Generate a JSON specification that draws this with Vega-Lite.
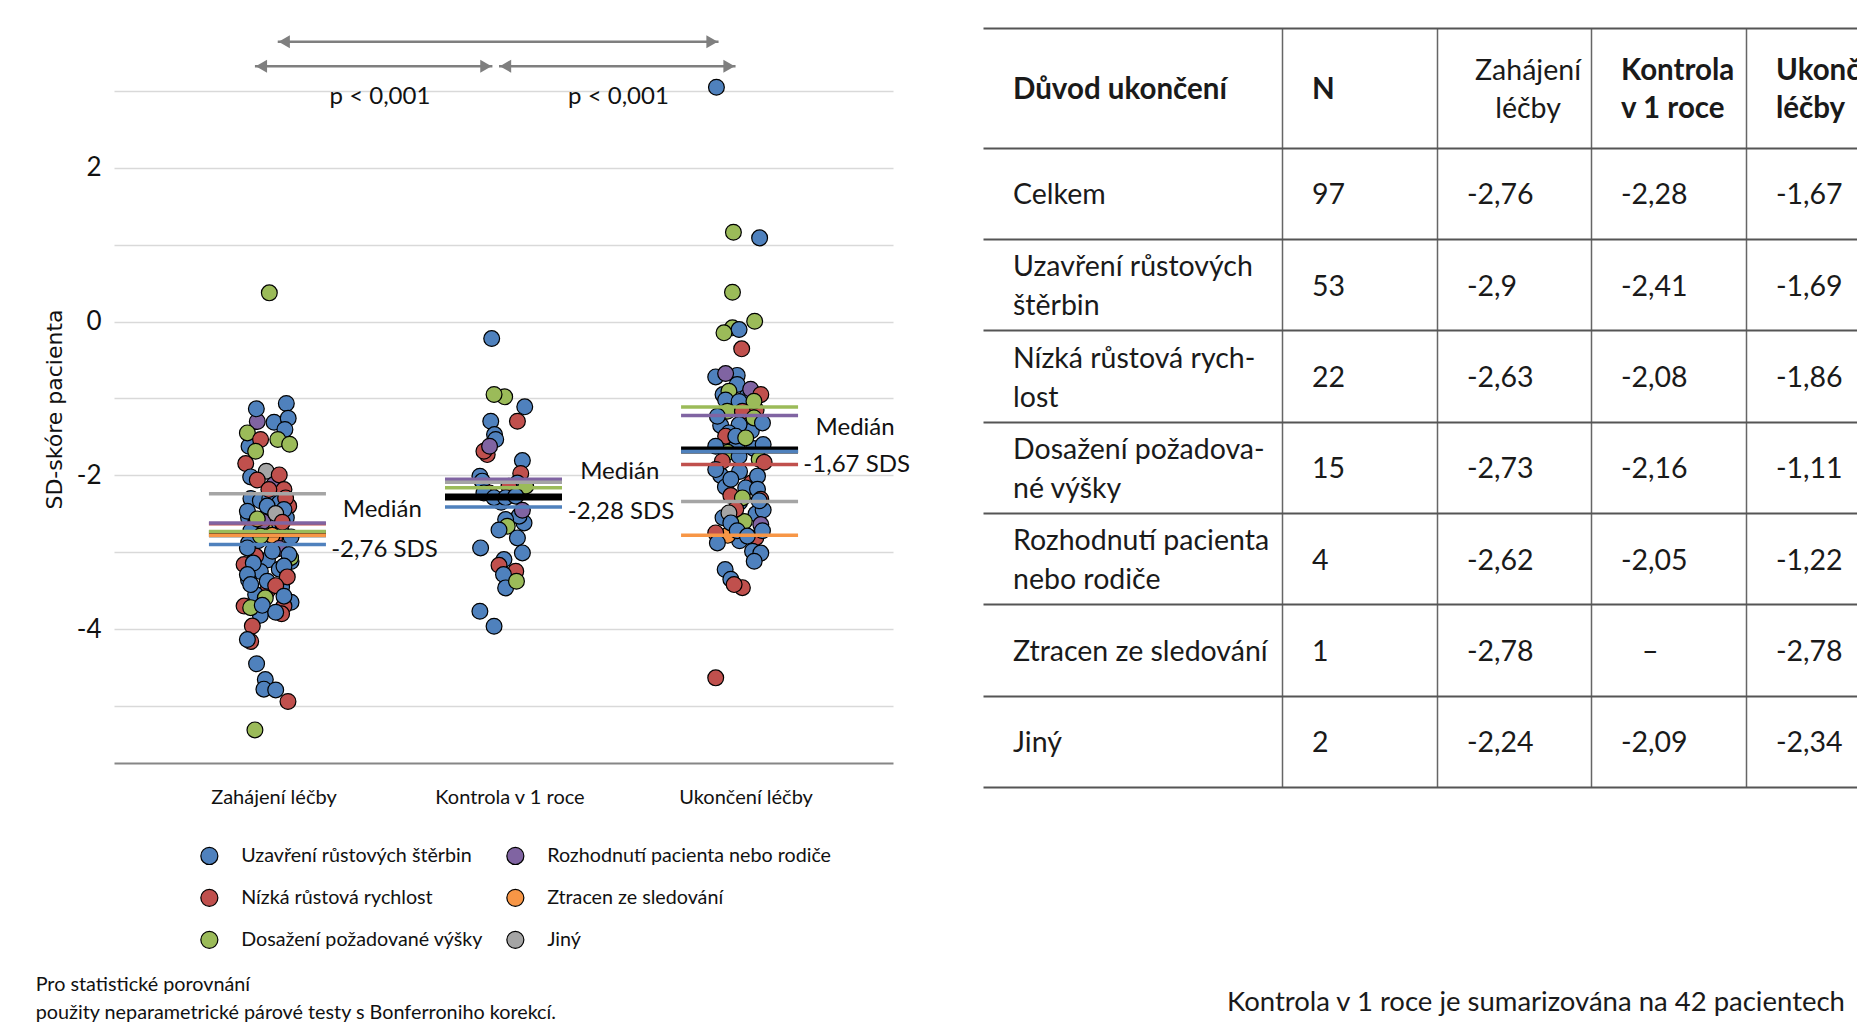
{
"$schema": "https://vega.github.io/schema/vega-lite/v6.json",
"background": "white",
"autosize": {"type": "pad"},
"padding": {"left": 35, "top": 27, "right": 0, "bottom": 0},
"config": {"view": {"stroke": null}, "font": "Lato"},
"bounds": "flush",
"spacing": 90,
"datasets": {
"pts": [
{"pos":0.93,"sds":-2.30,"reason":"Uzavření růstových štěrbin"},
{"pos":0.97,"sds":-2.33,"reason":"Uzavření růstových štěrbin"},
{"pos":1.01,"sds":-2.30,"reason":"Uzavření růstových štěrbin"},
{"pos":1.05,"sds":-2.36,"reason":"Uzavření růstových štěrbin"},
{"pos":1.09,"sds":-2.40,"reason":"Nízká růstová rychlost"},
{"pos":0.92,"sds":-2.55,"reason":"Uzavření růstových štěrbin"},
{"pos":1.00,"sds":-2.52,"reason":"Uzavření růstových štěrbin"},
{"pos":1.08,"sds":-2.55,"reason":"Uzavření růstových štěrbin"},
{"pos":0.95,"sds":-2.62,"reason":"Nízká růstová rychlost"},
{"pos":1.04,"sds":-2.65,"reason":"Uzavření růstových štěrbin"},
{"pos":0.93,"sds":-2.72,"reason":"Uzavření růstových štěrbin"},
{"pos":0.99,"sds":-2.70,"reason":"Dosažení požadované výšky"},
{"pos":1.06,"sds":-2.74,"reason":"Uzavření růstových štěrbin"},
{"pos":1.10,"sds":-2.80,"reason":"Uzavření růstových štěrbin"},
{"pos":0.96,"sds":-2.85,"reason":"Uzavření růstových štěrbin"},
{"pos":1.03,"sds":-2.82,"reason":"Nízká růstová rychlost"},
{"pos":0.92,"sds":-2.88,"reason":"Uzavření růstových štěrbin"},
{"pos":1.00,"sds":-3.10,"reason":"Uzavření růstových štěrbin"},
{"pos":0.95,"sds":-3.05,"reason":"Nízká růstová rychlost"},
{"pos":1.05,"sds":-3.22,"reason":"Uzavření růstových štěrbin"},
{"pos":0.97,"sds":-3.25,"reason":"Uzavření růstových štěrbin"},
{"pos":1.10,"sds":-3.12,"reason":"Uzavření růstových štěrbin"},
{"pos":0.92,"sds":-3.36,"reason":"Uzavření růstových štěrbin"},
{"pos":1.00,"sds":-3.50,"reason":"Nízká růstová rychlost"},
{"pos":1.06,"sds":-3.45,"reason":"Uzavření růstových štěrbin"},
{"pos":0.95,"sds":-3.55,"reason":"Uzavření růstových štěrbin"},
{"pos":1.10,"sds":-3.65,"reason":"Uzavření růstových štěrbin"},
{"pos":0.97,"sds":-3.82,"reason":"Uzavření růstových štěrbin"},
{"pos":1.07,"sds":-3.70,"reason":"Nízká růstová rychlost"},
{"pos":1.02,"sds":-2.78,"reason":"Ztracen ze sledování"},
{"pos":0.98,"sds":-2.60,"reason":"Rozhodnutí pacienta nebo rodiče"},
{"pos":1.05,"sds":-2.95,"reason":"Rozhodnutí pacienta nebo rodiče"},
{"pos":1.008,"sds":0.373,"reason":"Dosažení požadované výšky"},
{"pos":0.957,"sds":-1.30,"reason":"Rozhodnutí pacienta nebo rodiče"},
{"pos":0.953,"sds":-1.135,"reason":"Uzavření růstových štěrbin"},
{"pos":1.080,"sds":-1.066,"reason":"Uzavření růstových štěrbin"},
{"pos":1.028,"sds":-1.309,"reason":"Uzavření růstových štěrbin"},
{"pos":1.088,"sds":-1.257,"reason":"Uzavření růstových štěrbin"},
{"pos":1.074,"sds":-1.404,"reason":"Uzavření růstových štěrbin"},
{"pos":0.922,"sds":-1.621,"reason":"Uzavření růstových štěrbin"},
{"pos":0.915,"sds":-1.448,"reason":"Dosažení požadované výšky"},
{"pos":0.971,"sds":-1.534,"reason":"Nízká růstová rychlost"},
{"pos":1.044,"sds":-1.534,"reason":"Dosažení požadované výšky"},
{"pos":1.094,"sds":-1.595,"reason":"Dosažení požadované výšky"},
{"pos":0.950,"sds":-1.686,"reason":"Dosažení požadované výšky"},
{"pos":0.908,"sds":-1.847,"reason":"Nízká růstová rychlost"},
{"pos":0.995,"sds":-1.946,"reason":"Jiný"},
{"pos":0.929,"sds":-2.02,"reason":"Uzavření růstových štěrbin"},
{"pos":0.957,"sds":-2.06,"reason":"Nízká růstová rychlost"},
{"pos":1.028,"sds":-2.12,"reason":"Rozhodnutí pacienta nebo rodiče"},
{"pos":1.050,"sds":-1.994,"reason":"Nízká růstová rychlost"},
{"pos":1.070,"sds":-2.185,"reason":"Nízká růstová rychlost"},
{"pos":1.006,"sds":-2.185,"reason":"Nízká růstová rychlost"},
{"pos":1.077,"sds":-2.293,"reason":"Nízká růstová rychlost"},
{"pos":0.915,"sds":-2.467,"reason":"Uzavření růstových štěrbin"},
{"pos":0.999,"sds":-2.40,"reason":"Uzavření růstových štěrbin"},
{"pos":1.07,"sds":-2.444,"reason":"Uzavření růstových štěrbin"},
{"pos":1.035,"sds":-2.497,"reason":"Jiný"},
{"pos":0.957,"sds":-2.566,"reason":"Dosažení požadované výšky"},
{"pos":1.063,"sds":-2.61,"reason":"Nízká růstová rychlost"},
{"pos":0.971,"sds":-2.79,"reason":"Dosažení požadované výšky"},
{"pos":0.915,"sds":-2.943,"reason":"Uzavření růstových štěrbin"},
{"pos":1.021,"sds":-2.987,"reason":"Uzavření růstových štěrbin"},
{"pos":1.098,"sds":-3.07,"reason":"Dosažení požadované výšky"},
{"pos":1.091,"sds":-3.03,"reason":"Uzavření růstových štěrbin"},
{"pos":0.901,"sds":-3.16,"reason":"Nízká růstová rychlost"},
{"pos":0.940,"sds":-3.14,"reason":"Uzavření růstových štěrbin"},
{"pos":0.915,"sds":-3.29,"reason":"Uzavření růstových štěrbin"},
{"pos":1.07,"sds":-3.18,"reason":"Uzavření růstových štěrbin"},
{"pos":1.084,"sds":-3.32,"reason":"Nízká růstová rychlost"},
{"pos":0.999,"sds":-3.377,"reason":"Uzavření růstových štěrbin"},
{"pos":0.929,"sds":-3.42,"reason":"Uzavření růstových štěrbin"},
{"pos":1.035,"sds":-3.434,"reason":"Nízká růstová rychlost"},
{"pos":0.991,"sds":-3.593,"reason":"Dosažení požadované výšky"},
{"pos":1.07,"sds":-3.571,"reason":"Uzavření růstových štěrbin"},
{"pos":0.901,"sds":-3.70,"reason":"Nízká růstová rychlost"},
{"pos":0.929,"sds":-3.72,"reason":"Dosažení požadované výšky"},
{"pos":0.978,"sds":-3.69,"reason":"Uzavření růstových štěrbin"},
{"pos":1.06,"sds":-3.80,"reason":"Nízká růstová rychlost"},
{"pos":1.035,"sds":-3.78,"reason":"Uzavření růstových štěrbin"},
{"pos":0.936,"sds":-3.96,"reason":"Nízká růstová rychlost"},
{"pos":0.929,"sds":-4.16,"reason":"Nízká růstová rychlost"},
{"pos":0.915,"sds":-4.135,"reason":"Uzavření růstových štěrbin"},
{"pos":0.954,"sds":-4.45,"reason":"Uzavření růstových štěrbin"},
{"pos":0.991,"sds":-4.655,"reason":"Uzavření růstových štěrbin"},
{"pos":0.985,"sds":-4.78,"reason":"Uzavření růstových štěrbin"},
{"pos":1.035,"sds":-4.79,"reason":"Uzavření růstových štěrbin"},
{"pos":1.087,"sds":-4.94,"reason":"Nízká růstová rychlost"},
{"pos":0.947,"sds":-5.31,"reason":"Dosažení požadované výšky"},
{"pos":2.03,"sds":-2.20,"reason":"Jiný"},
{"pos":1.99,"sds":-2.35,"reason":"Uzavření růstových štěrbin"},
{"pos":1.950,"sds":-0.221,"reason":"Uzavření růstových štěrbin"},
{"pos":2.005,"sds":-0.979,"reason":"Dosažení požadované výšky"},
{"pos":1.960,"sds":-0.949,"reason":"Dosažení požadované výšky"},
{"pos":2.090,"sds":-1.109,"reason":"Uzavření růstových štěrbin"},
{"pos":2.059,"sds":-1.296,"reason":"Nízká růstová rychlost"},
{"pos":1.946,"sds":-1.296,"reason":"Uzavření růstových štěrbin"},
{"pos":1.962,"sds":-1.47,"reason":"Uzavření růstových štěrbin"},
{"pos":1.967,"sds":-1.534,"reason":"Uzavření růstových štěrbin"},
{"pos":1.931,"sds":-1.73,"reason":"Nízká růstová rychlost"},
{"pos":1.917,"sds":-1.686,"reason":"Nízká růstová rychlost"},
{"pos":1.941,"sds":-1.621,"reason":"Rozhodnutí pacienta nebo rodiče"},
{"pos":2.080,"sds":-1.808,"reason":"Uzavření růstových štěrbin"},
{"pos":2.073,"sds":-1.976,"reason":"Nízká růstová rychlost"},
{"pos":1.900,"sds":-2.011,"reason":"Uzavření růstových štěrbin"},
{"pos":1.910,"sds":-2.075,"reason":"Uzavření růstových štěrbin"},
{"pos":2.059,"sds":-2.10,"reason":"Uzavření růstových štěrbin"},
{"pos":2.023,"sds":-2.14,"reason":"Nízká růstová rychlost"},
{"pos":2.094,"sds":-2.14,"reason":"Dosažení požadované výšky"},
{"pos":1.940,"sds":-2.228,"reason":"Nízká růstová rychlost"},
{"pos":1.917,"sds":-2.228,"reason":"Uzavření růstových štěrbin"},
{"pos":1.960,"sds":-2.29,"reason":"Uzavření růstových štěrbin"},
{"pos":2.009,"sds":-2.29,"reason":"Uzavření růstových štěrbin"},
{"pos":2.052,"sds":-2.27,"reason":"Uzavření růstových štěrbin"},
{"pos":2.087,"sds":-2.618,"reason":"Uzavření růstových štěrbin"},
{"pos":2.066,"sds":-2.53,"reason":"Uzavření růstových štěrbin"},
{"pos":2.080,"sds":-2.454,"reason":"Rozhodnutí pacienta nebo rodiče"},
{"pos":2.009,"sds":-2.575,"reason":"Uzavření růstových štěrbin"},
{"pos":2.016,"sds":-2.661,"reason":"Dosažení požadované výšky"},
{"pos":1.981,"sds":-2.71,"reason":"Uzavření růstových štěrbin"},
{"pos":2.059,"sds":-2.813,"reason":"Uzavření růstových štěrbin"},
{"pos":1.903,"sds":-2.943,"reason":"Uzavření růstových štěrbin"},
{"pos":2.080,"sds":-3.008,"reason":"Uzavření růstových štěrbin"},
{"pos":2.002,"sds":-3.095,"reason":"Uzavření růstových štěrbin"},
{"pos":1.981,"sds":-3.17,"reason":"Nízká růstová rychlost"},
{"pos":2.052,"sds":-3.247,"reason":"Nízká růstová rychlost"},
{"pos":2.000,"sds":-3.29,"reason":"Uzavření růstových štěrbin"},
{"pos":2.009,"sds":-3.463,"reason":"Uzavření růstových štěrbin"},
{"pos":2.055,"sds":-3.377,"reason":"Dosažení požadované výšky"},
{"pos":1.900,"sds":-3.767,"reason":"Uzavření růstových štěrbin"},
{"pos":1.960,"sds":-3.962,"reason":"Uzavření růstových štěrbin"},
{"pos":2.93,"sds":-0.95,"reason":"Uzavření růstových štěrbin"},
{"pos":3.03,"sds":-0.98,"reason":"Uzavření růstových štěrbin"},
{"pos":2.97,"sds":-1.10,"reason":"Uzavření růstových štěrbin"},
{"pos":3.07,"sds":-1.15,"reason":"Nízká růstová rychlost"},
{"pos":2.92,"sds":-1.35,"reason":"Uzavření růstových štěrbin"},
{"pos":3.05,"sds":-1.42,"reason":"Uzavření růstových štěrbin"},
{"pos":2.99,"sds":-1.60,"reason":"Uzavření růstových štěrbin"},
{"pos":3.06,"sds":-1.65,"reason":"Uzavření růstových štěrbin"},
{"pos":2.95,"sds":-1.70,"reason":"Dosažení požadované výšky"},
{"pos":3.10,"sds":-1.60,"reason":"Uzavření růstových štěrbin"},
{"pos":2.92,"sds":-2.00,"reason":"Uzavření růstových štěrbin"},
{"pos":3.00,"sds":-1.95,"reason":"Uzavření růstových štěrbin"},
{"pos":3.05,"sds":-2.10,"reason":"Nízká růstová rychlost"},
{"pos":2.94,"sds":-2.15,"reason":"Uzavření růstových štěrbin"},
{"pos":3.00,"sds":-2.35,"reason":"Uzavření růstových štěrbin"},
{"pos":3.07,"sds":-2.50,"reason":"Uzavření růstových štěrbin"},
{"pos":2.93,"sds":-2.55,"reason":"Uzavření růstových štěrbin"},
{"pos":3.02,"sds":-2.60,"reason":"Dosažení požadované výšky"},
{"pos":3.10,"sds":-2.45,"reason":"Uzavření růstových štěrbin"},
{"pos":3.00,"sds":-2.85,"reason":"Uzavření růstových štěrbin"},
{"pos":2.95,"sds":-2.78,"reason":"Ztracen ze sledování"},
{"pos":3.04,"sds":-2.20,"reason":"Jiný"},
{"pos":2.902,"sds":3.047,"reason":"Uzavření růstových štěrbin"},
{"pos":2.974,"sds":1.161,"reason":"Dosažení požadované výšky"},
{"pos":3.085,"sds":1.088,"reason":"Uzavření růstových štěrbin"},
{"pos":2.970,"sds":0.381,"reason":"Dosažení požadované výšky"},
{"pos":3.064,"sds":0.004,"reason":"Dosažení požadované výšky"},
{"pos":2.970,"sds":-0.082,"reason":"Dosažení požadované výšky"},
{"pos":2.998,"sds":-0.104,"reason":"Uzavření růstových štěrbin"},
{"pos":2.934,"sds":-0.147,"reason":"Dosažení požadované výšky"},
{"pos":3.009,"sds":-0.355,"reason":"Nízká růstová rychlost"},
{"pos":2.899,"sds":-0.72,"reason":"Uzavření růstových štěrbin"},
{"pos":2.990,"sds":-0.70,"reason":"Uzavření růstových štěrbin"},
{"pos":2.941,"sds":-0.676,"reason":"Rozhodnutí pacienta nebo rodiče"},
{"pos":2.99,"sds":-0.819,"reason":"Uzavření růstových štěrbin"},
{"pos":2.955,"sds":-0.906,"reason":"Dosažení požadované výšky"},
{"pos":3.047,"sds":-0.88,"reason":"Rozhodnutí pacienta nebo rodiče"},
{"pos":3.09,"sds":-0.949,"reason":"Nízká růstová rychlost"},
{"pos":2.941,"sds":-1.02,"reason":"Uzavření růstových štěrbin"},
{"pos":2.998,"sds":-1.04,"reason":"Uzavření růstových štěrbin"},
{"pos":3.061,"sds":-1.036,"reason":"Dosažení požadované výšky"},
{"pos":2.948,"sds":-1.166,"reason":"Dosažení požadované výšky"},
{"pos":3.012,"sds":-1.166,"reason":"Nízká růstová rychlost"},
{"pos":2.906,"sds":-1.231,"reason":"Uzavření růstových štěrbin"},
{"pos":3.061,"sds":-1.253,"reason":"Dosažení požadované výšky"},
{"pos":3.097,"sds":-1.318,"reason":"Uzavření růstových štěrbin"},
{"pos":2.998,"sds":-1.34,"reason":"Uzavření růstových štěrbin"},
{"pos":2.955,"sds":-1.448,"reason":"Uzavření růstových štěrbin"},
{"pos":2.941,"sds":-1.49,"reason":"Nízká růstová rychlost"},
{"pos":2.984,"sds":-1.49,"reason":"Uzavření růstových štěrbin"},
{"pos":3.026,"sds":-1.513,"reason":"Dosažení požadované výšky"},
{"pos":2.899,"sds":-1.621,"reason":"Uzavření růstových štěrbin"},
{"pos":2.998,"sds":-1.751,"reason":"Uzavření růstových štěrbin"},
{"pos":2.927,"sds":-1.816,"reason":"Nízká růstová rychlost"},
{"pos":3.083,"sds":-1.79,"reason":"Dosažení požadované výšky"},
{"pos":3.104,"sds":-1.83,"reason":"Nízká růstová rychlost"},
{"pos":2.899,"sds":-1.925,"reason":"Uzavření růstových štěrbin"},
{"pos":3.076,"sds":-2.01,"reason":"Uzavření růstových štěrbin"},
{"pos":2.963,"sds":-2.05,"reason":"Uzavření růstových štěrbin"},
{"pos":3.026,"sds":-2.163,"reason":"Uzavření růstových štěrbin"},
{"pos":3.076,"sds":-2.18,"reason":"Uzavření růstových štěrbin"},
{"pos":2.963,"sds":-2.263,"reason":"Nízká růstová rychlost"},
{"pos":3.09,"sds":-2.31,"reason":"Nízká růstová rychlost"},
{"pos":3.083,"sds":-2.33,"reason":"Uzavření růstových štěrbin"},
{"pos":3.012,"sds":-2.293,"reason":"Dosažení požadované výšky"},
{"pos":2.984,"sds":-2.44,"reason":"Nízká růstová rychlost"},
{"pos":2.955,"sds":-2.488,"reason":"Jiný"},
{"pos":2.963,"sds":-2.618,"reason":"Uzavření růstových štěrbin"},
{"pos":3.09,"sds":-2.64,"reason":"Rozhodnutí pacienta nebo rodiče"},
{"pos":2.899,"sds":-2.748,"reason":"Nízká růstová rychlost"},
{"pos":2.906,"sds":-2.878,"reason":"Uzavření růstových štěrbin"},
{"pos":2.99,"sds":-2.72,"reason":"Uzavření růstových štěrbin"},
{"pos":3.069,"sds":-2.81,"reason":"Nízká růstová rychlost"},
{"pos":3.033,"sds":-2.79,"reason":"Uzavření růstových štěrbin"},
{"pos":3.097,"sds":-2.72,"reason":"Uzavření růstových štěrbin"},
{"pos":3.055,"sds":-2.987,"reason":"Uzavření růstových štěrbin"},
{"pos":3.09,"sds":-3.01,"reason":"Uzavření růstových štěrbin"},
{"pos":3.062,"sds":-3.117,"reason":"Uzavření růstových štěrbin"},
{"pos":2.939,"sds":-3.225,"reason":"Uzavření růstových štěrbin"},
{"pos":2.963,"sds":-3.35,"reason":"Uzavření růstových štěrbin"},
{"pos":3.012,"sds":-3.46,"reason":"Nízká růstová rychlost"},
{"pos":2.977,"sds":-3.42,"reason":"Nízká růstová rychlost"},
{"pos":2.899,"sds":-4.633,"reason":"Nízká růstová rychlost"}
],
"medAll": [
{"pos":1,"sds":-2.76},{"pos":2,"sds":-2.28},{"pos":3,"sds":-1.67}
],
"med": [
{"pos":1,"sds":-2.9,"reason":"Uzavření růstových štěrbin"},
{"pos":1,"sds":-2.63,"reason":"Nízká růstová rychlost"},
{"pos":1,"sds":-2.73,"reason":"Dosažení požadované výšky"},
{"pos":1,"sds":-2.62,"reason":"Rozhodnutí pacienta nebo rodiče"},
{"pos":1,"sds":-2.78,"reason":"Ztracen ze sledování"},
{"pos":1,"sds":-2.24,"reason":"Jiný"},
{"pos":2,"sds":-2.41,"reason":"Uzavření růstových štěrbin"},
{"pos":2,"sds":-2.08,"reason":"Nízká růstová rychlost"},
{"pos":2,"sds":-2.16,"reason":"Dosažení požadované výšky"},
{"pos":2,"sds":-2.05,"reason":"Rozhodnutí pacienta nebo rodiče"},
{"pos":2,"sds":-2.09,"reason":"Jiný"},
{"pos":3,"sds":-1.69,"reason":"Uzavření růstových štěrbin"},
{"pos":3,"sds":-1.86,"reason":"Nízká růstová rychlost"},
{"pos":3,"sds":-1.11,"reason":"Dosažení požadované výšky"},
{"pos":3,"sds":-1.22,"reason":"Rozhodnutí pacienta nebo rodiče"},
{"pos":3,"sds":-2.78,"reason":"Ztracen ze sledování"},
{"pos":3,"sds":-2.34,"reason":"Jiný"}
],
"medLab": [
{"pos":1.4865,"sds":-2.445,"text":"Medián"},
{"pos":1.4958,"sds":-2.965,"text":"-2,76 SDS"},
{"pos":2.4924,"sds":-1.96,"text":"Medián"},
{"pos":2.498,"sds":-2.48,"text":"-2,28 SDS"},
{"pos":3.4895,"sds":-1.383,"text":"Medián"},
{"pos":3.496,"sds":-1.868,"text":"-1,67 SDS"}
],
"arrows": [
{"from":1.0436,"to":2.911,"sds":3.637},
{"from":0.947,"to":1.953,"sds":3.32},
{"from":1.981,"to":2.983,"sds":3.32}
],
"ptext": [
{"pos":1.4767,"sds":2.926,"text":"p < 0,001"},
{"pos":2.487,"sds":2.926,"text":"p < 0,001"}
],
"notes": [
{"pos":0.0182,"sds":-8.622,"text":"Pro statistické porovnání"},
{"pos":0.0182,"sds":-8.99,"text":"použity neparametrické párové testy s Bonferroniho korekcí."}
],
"hdr": [
{"c":0,"row":0,"text":"Důvod ukončení"},
{"c":1,"row":0,"text":"N"},
{"c":2,"row":0,"text":"Zahájení\nléčby"},
{"c":3,"row":0,"text":"Kontrola\nv 1 roce"},
{"c":4,"row":0,"text":"Ukončení\nléčby"}
],
"cells": [
{"c":0,"row":1,"text":"Celkem"},{"c":1,"row":1,"text":"97"},{"c":2,"row":1,"text":"-2,76"},{"c":3,"row":1,"text":"-2,28"},{"c":4,"row":1,"text":"-1,67"},
{"c":0,"row":2,"text":"Uzavření růstových\nštěrbin"},{"c":1,"row":2,"text":"53"},{"c":2,"row":2,"text":"-2,9"},{"c":3,"row":2,"text":"-2,41"},{"c":4,"row":2,"text":"-1,69"},
{"c":0,"row":3,"text":"Nízká růstová rych-\nlost"},{"c":1,"row":3,"text":"22"},{"c":2,"row":3,"text":"-2,63"},{"c":3,"row":3,"text":"-2,08"},{"c":4,"row":3,"text":"-1,86"},
{"c":0,"row":4,"text":"Dosažení požadova-\nné výšky"},{"c":1,"row":4,"text":"15"},{"c":2,"row":4,"text":"-2,73"},{"c":3,"row":4,"text":"-2,16"},{"c":4,"row":4,"text":"-1,11"},
{"c":0,"row":5,"text":"Rozhodnutí pacienta\nnebo rodiče"},{"c":1,"row":5,"text":"4"},{"c":2,"row":5,"text":"-2,62"},{"c":3,"row":5,"text":"-2,05"},{"c":4,"row":5,"text":"-1,22"},
{"c":0,"row":6,"text":"Ztracen ze sledování"},{"c":1,"row":6,"text":"1"},{"c":2,"row":6,"text":"-2,78"},{"c":3,"row":6,"text":"–"},{"c":4,"row":6,"text":"-2,78"},
{"c":0,"row":7,"text":"Jiný"},{"c":1,"row":7,"text":"2"},{"c":2,"row":7,"text":"-2,24"},{"c":3,"row":7,"text":"-2,09"},{"c":4,"row":7,"text":"-2,34"}
],
"foot": [
{"c":0.816,"row":9.86,"text":"Kontrola v 1 roce je sumarizována na 42 pacientech"}
]
},
"hconcat": [
{
"width": 779,
"height": 736,
"layer": [
{
"data": {"name": "pts"},
"mark": {"type": "point", "filled": true, "size": 250, "stroke": "#000", "strokeWidth": 1.2, "opacity": 1},
"encoding": {
"x": {"field": "pos", "type": "quantitative", "scale": {"domain": [0.35, 3.65], "nice": false, "zero": false},
 "axis": {"values": [1,2,3], "labelExpr": "datum.value == 1 ? 'Zahájení léčby' : datum.value == 2 ? 'Kontrola v 1 roce' : 'Ukončení léčby'", "title": null, "grid": false, "ticks": false, "tickSize": 0, "domainColor": "#868686", "domainWidth": 2, "labelFont": "Lato", "labelFontSize": 20, "labelColor": "#111", "labelPadding": 24, "labelOffset": 6, "labelOverlap": false}},
"y": {"field": "sds", "type": "quantitative", "scale": {"domain": [-5.74, 3.83], "nice": false, "zero": false},
 "axis": {"values": [-5,-4,-3,-2,-1,0,1,2,3], "labelExpr": "datum.value % 2 == 0 ? '' + datum.value : ''", "title": "SD-skóre pacienta", "grid": true, "gridColor": "#d9d9d9", "gridWidth": 1.3, "domain": false, "ticks": false, "tickSize": 0, "labelFont": "Lato", "labelFontSize": 26, "labelColor": "#111", "labelPadding": 13, "labelOverlap": false, "titleFont": "DejaVu Sans", "titleFontSize": 22, "titleFontWeight": "normal", "titleColor": "#111", "titleX": -59.5, "titleY": 382, "titleAngle": -90, "titleBaseline": "middle", "titleAlign": "center"}},
"color": {"field": "reason", "type": "nominal",
 "scale": {"domain": ["Uzavření růstových štěrbin", "Nízká růstová rychlost", "Dosažení požadované výšky", "Rozhodnutí pacienta nebo rodiče", "Ztracen ze sledování", "Jiný"], "range": ["#4F81BD", "#C0504D", "#9BBB59", "#8064A2", "#F79646", "#A5A5A5"]},
 "legend": {"orient": "none", "legendX": 85.5, "legendY": 819, "columns": 2, "title": null, "labelFont": "Lato", "labelFontSize": 19.7, "labelColor": "#111", "symbolType": "circle", "symbolSize": 290, "symbolStrokeColor": "#000", "symbolStrokeWidth": 1.2, "symbolOpacity": 1, "labelOffset": 22, "columnPadding": 20, "rowPadding": 19, "labelLimit": 400, "padding": 0}}
}
},
{
"data": {"name": "medAll"},
"mark": {"type": "tick", "orient": "horizontal", "size": 117, "thickness": 7, "color": "#000", "opacity": 1},
"encoding": {"x": {"field": "pos", "type": "quantitative", "title": null}, "y": {"field": "sds", "type": "quantitative"}}
},
{
"data": {"name": "med"},
"mark": {"type": "tick", "orient": "horizontal", "size": 117, "thickness": 3.5, "opacity": 1},
"encoding": {"x": {"field": "pos", "type": "quantitative", "title": null}, "y": {"field": "sds", "type": "quantitative"},
 "color": {"field": "reason", "type": "nominal", "legend": null}}
},
{
"data": {"name": "medLab"},
"mark": {"type": "text", "font": "Lato", "fontSize": 24, "color": "#111", "align": "center", "baseline": "middle"},
"encoding": {"x": {"field": "pos", "type": "quantitative", "title": null}, "y": {"field": "sds", "type": "quantitative"}, "text": {"field": "text"}}
},
{
"data": {"name": "arrows"},
"mark": {"type": "rule", "color": "#7f7f7f", "strokeWidth": 2.5},
"encoding": {"x": {"field": "from", "type": "quantitative", "title": null}, "x2": {"field": "to"}, "y": {"field": "sds", "type": "quantitative"}}
},
{
"data": {"name": "arrows"},
"mark": {"type": "point", "shape": "triangle-left", "filled": true, "size": 170, "color": "#7f7f7f", "opacity": 1, "xOffset": 6.5},
"encoding": {"x": {"field": "from", "type": "quantitative", "title": null}, "y": {"field": "sds", "type": "quantitative"}}
},
{
"data": {"name": "arrows"},
"mark": {"type": "point", "shape": "triangle-right", "filled": true, "size": 170, "color": "#7f7f7f", "opacity": 1, "xOffset": -6.5},
"encoding": {"x": {"field": "to", "type": "quantitative", "title": null}, "y": {"field": "sds", "type": "quantitative"}}
},
{
"data": {"name": "ptext"},
"mark": {"type": "text", "font": "Lato", "fontSize": 24, "color": "#111", "align": "center", "baseline": "middle"},
"encoding": {"x": {"field": "pos", "type": "quantitative", "title": null}, "y": {"field": "sds", "type": "quantitative"}, "text": {"field": "text"}}
},
{
"data": {"name": "notes"},
"mark": {"type": "text", "font": "Lato", "fontSize": 19.8, "color": "#111", "align": "left", "baseline": "middle"},
"encoding": {"x": {"field": "pos", "type": "quantitative", "title": null}, "y": {"field": "sds", "type": "quantitative"}, "text": {"field": "text"}}
}
]
},
{
"width": 918,
"height": 760,
"encoding": {
"x": {"field": "c", "type": "quantitative", "scale": {"domain": [0,1,2,3,4,5], "range": [0,299,454,608,763,918], "nice": false, "zero": false},
 "axis": {"values": [1,2,3,4,5], "grid": true, "gridColor": "#666", "gridWidth": 1.5, "labels": false, "ticks": false, "domain": false, "title": null, "orient": "top"}},
"y": {"field": "row", "type": "quantitative", "scale": {"domain": [-0.5, 0.5, 7.5], "range": [0.7, 120.7, 760], "nice": false, "zero": false},
 "axis": {"values": [-0.5,0.5,1.5,2.5,3.5,4.5,5.5,6.5,7.5], "grid": true, "gridColor": "#555", "gridWidth": 2, "labels": false, "ticks": false, "domain": false, "title": null}},
"text": {"field": "text"}
},
"layer": [
{
"data": {"name": "cells"},
"transform": [{"filter": "indexof(datum.text, '\\n') < 0 && datum.text != '–'"}],
"mark": {"type": "text", "font": "Lato", "fontSize": 28.5, "color": "#1a1a1a", "align": "left", "baseline": "middle", "dx": 30, "dy": 2}
},
{
"data": {"name": "cells"},
"transform": [{"filter": "indexof(datum.text, '\\n') >= 0"}],
"mark": {"type": "text", "font": "Lato", "fontSize": 28.5, "color": "#1a1a1a", "align": "left", "baseline": "middle", "dx": 30, "dy": -17.5, "lineBreak": "\n", "lineHeight": 39}
},
{
"data": {"name": "cells"},
"transform": [{"filter": "datum.text == '–'"}],
"mark": {"type": "text", "font": "Lato", "fontSize": 28.5, "color": "#1a1a1a", "align": "left", "baseline": "middle", "dx": 51, "dy": 2}
},
{
"data": {"name": "hdr"},
"transform": [{"filter": "datum.c <= 1"}],
"mark": {"type": "text", "font": "Lato", "fontSize": 29.5, "fontWeight": "bold", "color": "#1a1a1a", "align": "left", "baseline": "middle", "dx": 30, "dy": 2}
},
{
"data": {"name": "hdr"},
"transform": [{"filter": "datum.c >= 3"}],
"mark": {"type": "text", "font": "Lato", "fontSize": 29.5, "fontWeight": "bold", "color": "#1a1a1a", "align": "left", "baseline": "middle", "dx": 30, "dy": -17, "lineBreak": "\n", "lineHeight": 38}
},
{
"data": {"name": "hdr"},
"transform": [{"filter": "datum.c == 2"}],
"mark": {"type": "text", "font": "Lato", "fontSize": 28.5, "color": "#1a1a1a", "align": "center", "baseline": "middle", "dx": 91, "dy": -17, "lineBreak": "\n", "lineHeight": 38}
},
{
"data": {"name": "foot"},
"mark": {"type": "text", "font": "Lato", "fontSize": 27.5, "color": "#1a1a1a", "align": "left", "baseline": "middle"}
}
]
}
]
}
